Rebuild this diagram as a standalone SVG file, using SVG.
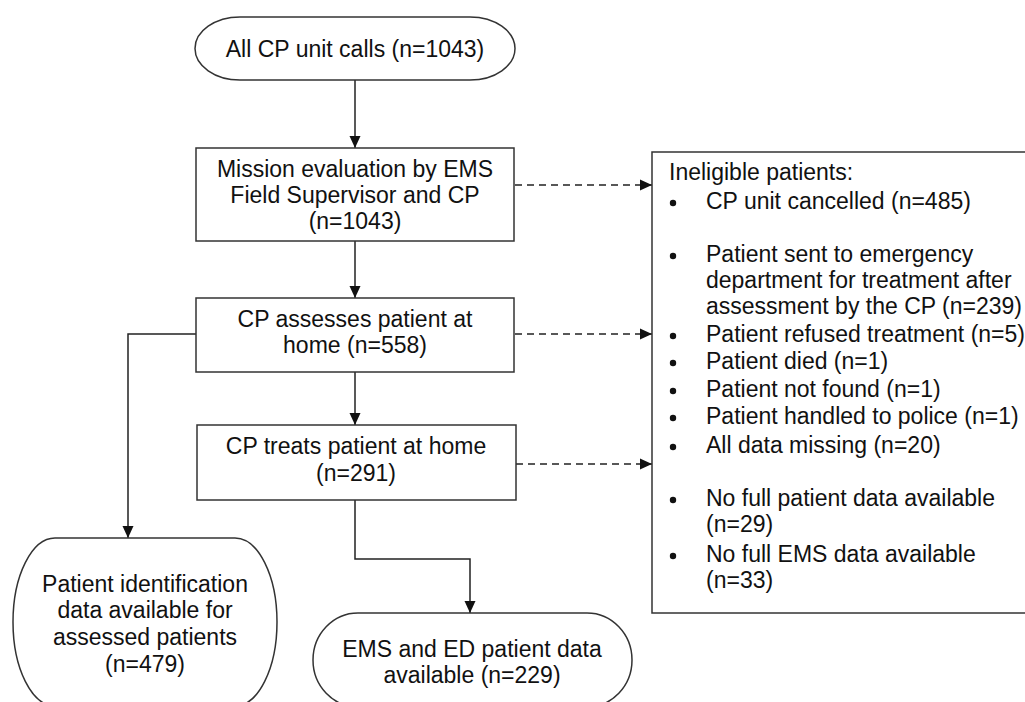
<svg xmlns="http://www.w3.org/2000/svg" width="1025" height="702" viewBox="0 0 1025 702">
<defs>
<marker id="arr" viewBox="0 0 12 12" refX="12" refY="6" markerWidth="12" markerHeight="12" markerUnits="userSpaceOnUse" orient="auto">
<path d="M0,0.5 L12,6 L0,11.5 z" fill="#111"/>
</marker>
<style>
.box{fill:#fff;stroke:#333;stroke-width:1.5}
.t{font-family:"Liberation Sans",Arial,sans-serif;font-size:23px;fill:#111}
.c{text-anchor:middle}
.ln{fill:none;stroke:#222;stroke-width:1.5}
.dash{fill:none;stroke:#222;stroke-width:1.5;stroke-dasharray:7 5}
.dot{fill:#111}
</style>
</defs>
<rect width="1025" height="702" fill="#fff"/>
<g id="connectors">
<path class="ln" d="M355,80 V148" marker-end="url(#arr)"/>
<path class="ln" d="M355,241 V298" marker-end="url(#arr)"/>
<path class="ln" d="M355,372 V425" marker-end="url(#arr)"/>
<path class="ln" d="M196,334 H128 V538" marker-end="url(#arr)"/>
<path class="ln" d="M355,500 V559 H470 V613" marker-end="url(#arr)"/>
<path class="dash" d="M515,185 H652" marker-end="url(#arr)"/>
<path class="dash" d="M515,334 H652" marker-end="url(#arr)"/>
<path class="dash" d="M516,464 H652" marker-end="url(#arr)"/>
</g>
<g id="start">
<path class="box" d="M240,17 H470 A45,31.5 0 0 1 470,80 H240 A45,31.5 0 0 1 240,17 Z"/>
<text class="t c" x="355" y="57">All CP unit calls (n=1043)</text>
</g>
<g id="mission">
<rect class="box" x="196" y="148" width="318" height="93"/>
<text class="t c" x="355" y="177">Mission evaluation by EMS</text>
<text class="t c" x="355" y="203">Field Supervisor and CP</text>
<text class="t c" x="355" y="229">(n=1043)</text>
</g>
<g id="assess">
<rect class="box" x="196" y="298" width="318" height="74"/>
<text class="t c" x="355" y="327">CP assesses patient at</text>
<text class="t c" x="355" y="353">home (n=558)</text>
</g>
<g id="treat">
<rect class="box" x="197" y="425" width="319" height="75"/>
<text class="t c" x="356" y="454">CP treats patient at home</text>
<text class="t c" x="356" y="481">(n=291)</text>
</g>
<g id="identification">
<path class="box" d="M55,538 H235 A42,84 0 0 1 235,706 H55 A42,84 0 0 1 55,538 Z"/>
<text class="t c" x="145" y="592">Patient identification</text>
<text class="t c" x="145" y="618">data available for</text>
<text class="t c" x="145" y="645">assessed patients</text>
<text class="t c" x="145" y="672">(n=479)</text>
</g>
<g id="emsed">
<path class="box" d="M358,613 H587 A45,47 0 0 1 587,707 H358 A45,47 0 0 1 358,613 Z"/>
<text class="t c" x="472" y="657">EMS and ED patient data</text>
<text class="t c" x="472" y="683">available (n=229)</text>
</g>
<g id="ineligible">
<rect class="box" x="652" y="152" width="390" height="461"/>
<text class="t" x="669" y="180">Ineligible patients:</text>
<circle class="dot" cx="673" cy="203" r="3.2"/>
<text class="t" x="706" y="209">CP unit cancelled (n=485)</text>
<circle class="dot" cx="673" cy="256" r="3.2"/>
<text class="t" x="706" y="262">Patient sent to emergency</text>
<text class="t" x="706" y="288">department for treatment after</text>
<text class="t" x="706" y="314">assessment by the CP (n=239)</text>
<circle class="dot" cx="673" cy="336" r="3.2"/>
<text class="t" x="706" y="342">Patient refused treatment (n=5)</text>
<circle class="dot" cx="673" cy="363" r="3.2"/>
<text class="t" x="706" y="369">Patient died (n=1)</text>
<circle class="dot" cx="673" cy="391" r="3.2"/>
<text class="t" x="706" y="397">Patient not found (n=1)</text>
<circle class="dot" cx="673" cy="418" r="3.2"/>
<text class="t" x="706" y="424">Patient handled to police (n=1)</text>
<circle class="dot" cx="673" cy="447" r="3.2"/>
<text class="t" x="706" y="453">All data missing (n=20)</text>
<circle class="dot" cx="673" cy="500" r="3.2"/>
<text class="t" x="706" y="506">No full patient data available</text>
<text class="t" x="706" y="532">(n=29)</text>
<circle class="dot" cx="673" cy="556" r="3.2"/>
<text class="t" x="706" y="562">No full EMS data available</text>
<text class="t" x="706" y="588">(n=33)</text>
</g>
</svg>
